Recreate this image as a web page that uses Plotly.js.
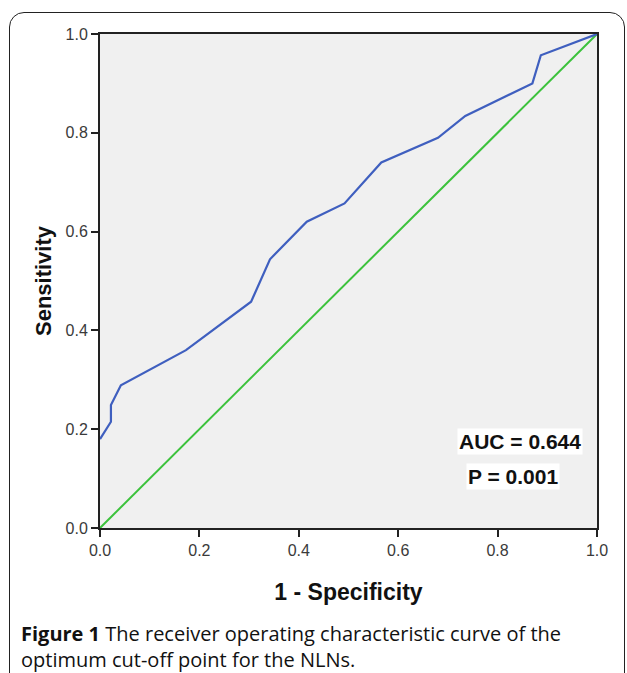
<!DOCTYPE html>
<html>
<head>
<meta charset="utf-8">
<script src="https://cdn.plot.ly/plotly-3.0.1.min.js"></script>
<style>
html,body{margin:0;padding:0;background:#fff;overflow:hidden;}
#wrap{position:relative;width:627px;height:673px;}
#chart{width:627px;height:673px;}
#frame{position:absolute;left:9px;top:12px;width:614px;height:700px;border:1.5px solid #222;border-radius:15px;pointer-events:none;}
</style>
</head>
<body>
<div id="wrap"><div id="chart"></div><div id="frame"></div></div>
<script>
// ROC curve (1 - specificity, sensitivity)
const fpr = [0.0, 0.022, 0.022, 0.042, 0.173, 0.304, 0.342, 0.416, 0.492, 0.566, 0.680, 0.735, 0.870, 0.887, 1.0];
const tpr = [0.180, 0.215, 0.249, 0.289, 0.360, 0.458, 0.544, 0.620, 0.657, 0.740, 0.790, 0.834, 0.900, 0.957, 1.0];
// reference line
const refX = [0, 1];
const refY = [0, 1];
const tickVals = [0, 0.2, 0.4, 0.6, 0.8, 1.0];
const tickText = ["0.0", "0.2", "0.4", "0.6", "0.8", "1.0"];
const aucText = "AUC = 0.644";
const pText = "P = 0.001";
const captionBold = "Figure 1";
const captionRest = " The receiver operating characteristic curve of the<br>optimum cut-off point for the NLNs.";

// pixel -> paper helpers (plot area: x 100..597, y 34..528)
const L = 100, R = 597, T = 34, B = 528;
const px = v => (v - L) / (R - L);
const py = v => (B - v) / (B - T);

const traces = [
  {x: refX, y: refY, mode: 'lines', line: {color: '#3cc23c', width: 2}, hoverinfo: 'skip'},
  {x: fpr, y: tpr, mode: 'lines', line: {color: '#3f5fbf', width: 2.2}}
];

const layout = {
  width: 627, height: 673,
  margin: {l: L, r: 627 - R, t: T, b: 673 - B},
  paper_bgcolor: '#ffffff',
  plot_bgcolor: '#f0f0f0',
  showlegend: false,
  font: {family: 'Liberation Sans, Arial, sans-serif', color: '#222'},
  xaxis: {
    range: [0, 1], tickvals: tickVals, ticktext: tickText,
    showgrid: false, zeroline: false,
    showline: true, linecolor: '#222', linewidth: 2, mirror: true,
    ticks: 'outside', ticklen: 7, tickwidth: 2, tickcolor: '#222',
    tickfont: {size: 16, color: '#3a3a3a'},
    title: {text: '<b>1 - Specificity</b>', font: {size: 23, color: '#111'}, standoff: 26}
  },
  yaxis: {
    range: [0, 1], tickvals: tickVals, ticktext: tickText,
    showgrid: false, zeroline: false,
    showline: true, linecolor: '#222', linewidth: 2, mirror: true,
    ticks: 'outside', ticklen: 7, tickwidth: 2, tickcolor: '#222',
    tickfont: {size: 16, color: '#3a3a3a'},
    title: {text: '<b>Sensitivity</b>', font: {size: 22, color: '#111'}, standoff: 8}
  },
  annotations: [
    {x: 0.845, y: 0.175, xref: 'x', yref: 'y', text: '<b>' + aucText + '</b>', showarrow: false,
     font: {size: 21, color: '#111'}, bgcolor: '#ffffff', borderpad: 1},
    {x: 0.83, y: 0.105, xref: 'x', yref: 'y', text: '<b>' + pText + '</b>', showarrow: false,
     font: {size: 21, color: '#111'}, bgcolor: '#ffffff', borderpad: 1},
    {x: px(19), y: py(646), xref: 'paper', yref: 'paper', xanchor: 'left', yanchor: 'middle', align: 'left',
     text: '<b>' + captionBold + '</b>' + captionRest, showarrow: false,
     font: {family: 'Open Sans, sans-serif', size: 20, color: '#111'}}
  ]
};

Plotly.newPlot('chart', traces, layout, {staticPlot: true, displayModeBar: false});
</script>
</body>
</html>
